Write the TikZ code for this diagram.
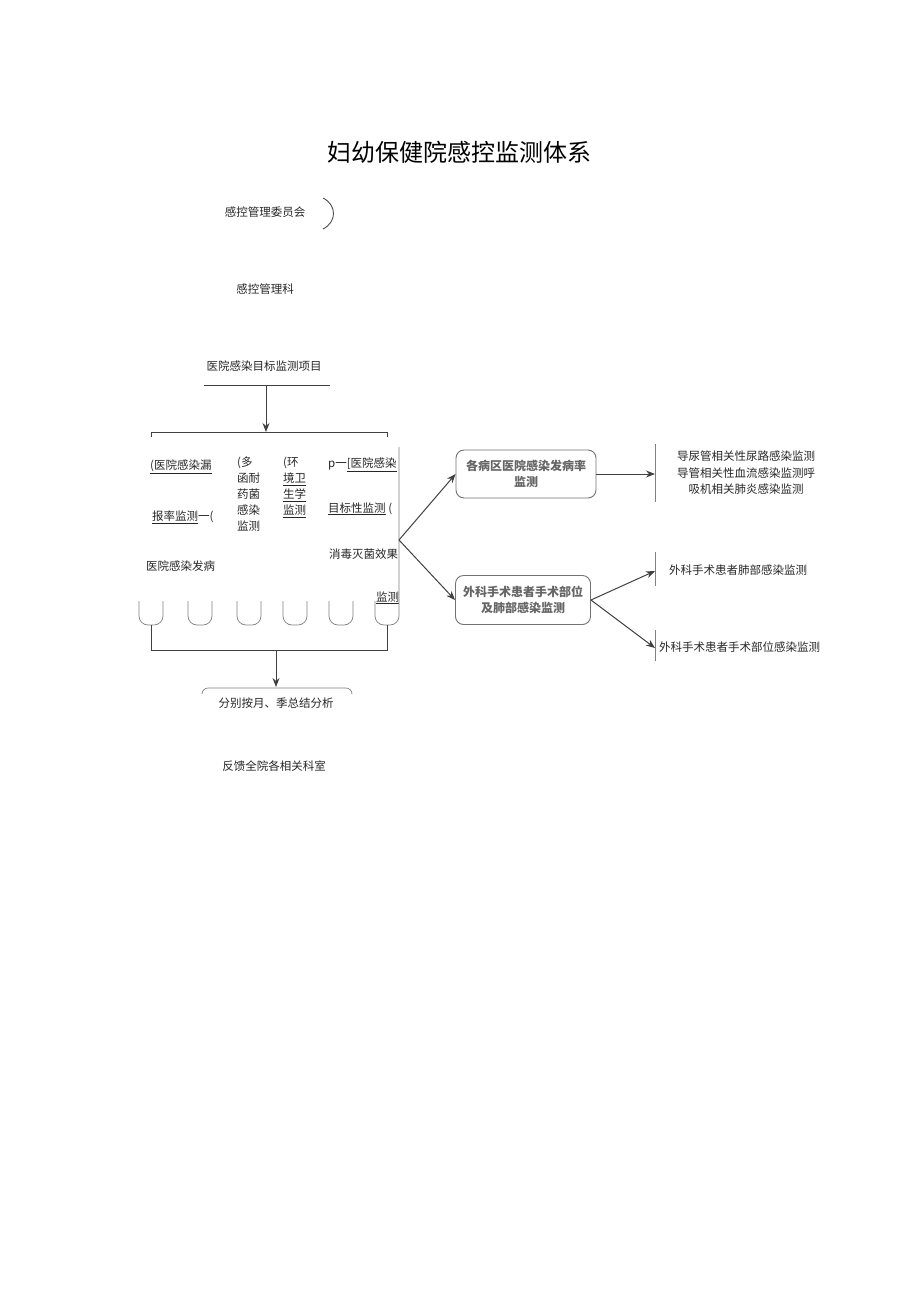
\documentclass[tikz,border=0pt]{standalone}
\usepackage{fontspec}
\setmainfont{Noto Sans CJK SC}
\usetikzlibrary{arrows.meta}
\begin{document}
\begin{tikzpicture}[x=1pt,y=-1pt,
  txt/.style={inner sep=0pt,font=\fontsize{11.5}{16}\selectfont,text=black!85},
  ln/.style={draw=black!75,line width=1pt},
  arr/.style={ln,-{Stealth[length=9pt,width=7pt]}},
  thin/.style={draw=black!50,line width=0.7pt},
  box/.style={draw=black!55,line width=0.9pt,rounded corners=8pt,fill=white,
    text=black!60,font=\fontsize{12}{16}\selectfont\bfseries,align=center,inner sep=0pt}]
\useasboundingbox (0,0) rectangle (920,1301);
% title
\node[inner sep=0pt,font=\fontsize{24}{28}\selectfont] (title) at (459,152) {妇幼保健院感控监测体系};
\node[txt] (wyh) at (265,212) {感控管理委员会};
\draw[draw=black!70,line width=0.9pt] (323,198) .. controls (337,205) and (337,222) .. (323,229);
\node[txt] (gkk) at (265,289) {感控管理科};
\node[txt] (xm) at (264,366) {医院感染目标监测项目};
\coordinate (u1) at (204,385);
\coordinate (u2) at (330,385);
\coordinate (ua) at (266,385);
\coordinate (ub) at (266,432);
\draw[ln] (u1) -- (u2);
\draw[arr] (ua) -- (ub);
\coordinate (bl) at (151,437);
\coordinate (br) at (387,437);
\draw[ln] (bl) -- ++(0,-5) -- (387,432) -- (br);
% left column
\node[txt,anchor=west] (c1a) at (150,467) {\underline{(医院感染漏}};
\node[txt,anchor=west] (c1b) at (152,517) {\underline{报率监测}一(};
\node[txt,anchor=west] (c1c) at (146,566) {医院感染发病};
\node[txt,anchor=north west,align=left] (c2) at (237,457) {(多\\函耐\\药菌\\感染\\监测};
\node[txt,anchor=north west,align=left] (c3) at (283,457) {(环\\\underline{境卫}\\\underline{生学}\\\underline{监测}};
\node[txt,anchor=west] (c4a) at (328,465) {p一\underline{[医院感染}};
\node[txt,anchor=west] (c4b) at (328,509) {\underline{目标性监测} (};
\node[txt,anchor=west] (c4c) at (329,554) {消毒灭菌效果};
\node[txt,anchor=west] (c4d) at (376,598) {\underline{监测}};
% cups
\foreach \cx in {151,200,249,295,341}{
  \draw[thin,rounded corners=9pt] (\cx-12,601) -- (\cx-12,625) -- (\cx+12,625) -- (\cx+12,601);
}
\draw[thin,rounded corners=9pt] (375,601) -- (375,625) -- (399,625) -- (399,447);
\coordinate (k1) at (151,625);
\coordinate (k6) at (387,625);
\draw[ln] (k1) -- (151,650) -- (387,650) -- (k6);
\coordinate (da) at (276,650);
\coordinate (db) at (276,687);
\draw[arr] (da) -- (db);
\draw[thin,rounded corners=6pt] (202,694) -- (202,688) -- (352,688) -- (352,694);
\node[txt] (zj) at (276,703) {分别按月、季总结分析};
\node[txt] (fk) at (274,766) {反馈全院各相关科室};
% right part
\coordinate (hub) at (399,540);
\node[box,minimum width=140pt,minimum height=48pt] (b1) at (526,474) {各病区医院感染发病率\\监测};
\node[box,minimum width=135pt,minimum height=49pt] (b2) at (523,600) {外科手术患者手术部位\\及肺部感染监测};
\draw[arr] (hub) -- (b1.west);
\draw[arr] (hub) -- (b2.west);
\coordinate (t1) at (655,474);
\coordinate (t2) at (655,571);
\coordinate (t3) at (655,648);
\draw[arr] (b1.east) -- (t1);
\draw[arr] (b2.east) -- (t2);
\draw[arr] (b2.east) -- (t3);
\draw[thin] (655,444) -- (655,502);
\draw[thin] (655,552) -- (655,586);
\draw[thin] (655,630) -- (655,661);
\node[txt,align=center,font=\fontsize{11.5}{16.5}\selectfont] (r1) at (746,473) {导尿管相关性尿路感染监测\\导管相关性血流感染监测呼\\吸机相关肺炎感染监测};
\node[txt,anchor=west] (r2) at (669,570) {外科手术患者肺部感染监测};
\node[txt,anchor=west] (r3) at (659,647) {外科手术患者手术部位感染监测};
\end{tikzpicture}
\end{document}
